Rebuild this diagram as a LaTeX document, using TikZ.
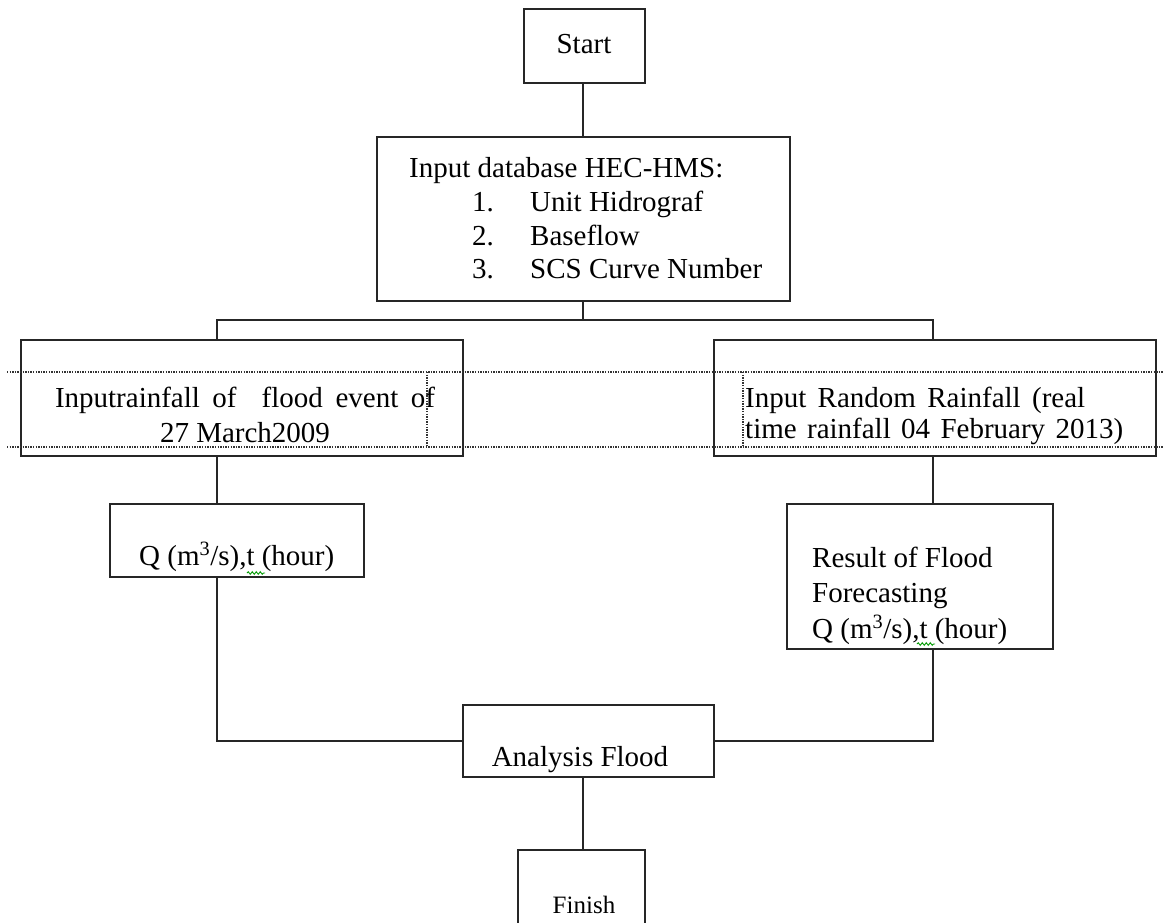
\documentclass[tikz,border=0pt]{standalone}
\usepackage{fontspec}
\setmainfont{Liberation Serif}
\usetikzlibrary{fit,decorations.pathmorphing}
\begin{document}
\begin{tikzpicture}
[x=1pt,y=-1pt,
  boxdecorate/.style={draw=black!85,line width=1.6pt,inner sep=0pt},%
  linkdecorate/.style={draw=black!85,line width=1.6pt},%
  framedecorate/.style={draw=black!80,line width=1.4pt,dash pattern=on 1.4pt off 1.2pt},%
  textdecorate/.style={inner sep=0pt,font=\fontsize{29}{34}\selectfont},%
  smalltext/.style={inner sep=0pt,font=\fontsize{25}{30}\selectfont},%
  spelldecorate/.style={draw=green!60!black,line width=0.9pt,decorate,
    decoration={snake,segment length=4pt,amplitude=1.3pt}}]
\clip (0,0) rectangle (1164,922);
\fill[white] (0,0) rectangle (1164,922);
%% boxes
\foreach \nodename/\xa/\ya/\xb/\yb in {start/524/9/645/83,
  inputdb/377/137/790/301, rainA/21/340/463/456, rainB/714/340/1156/456,
  resA/110/504/364/577, resB/787/504/1053/649, analysis/463/705/714/777,
  finish/518/850/645/940} {
  \node[boxdecorate,fit={(\xa,\ya) (\xb,\yb)}] (\nodename) {};
}
%% texts
\node[textdecorate,anchor=base] (startlbl) at (584,53) {Start};
\node[textdecorate,anchor=base west] (dbtitle) at (409,177) {Input database HEC-HMS:};
\foreach \num/\item/\y in {1/Unit Hidrograf/211, 2/Baseflow/245,
  3/SCS Curve Number/278} {
  \node[textdecorate,anchor=base west] (dbnum\num) at (472,\y) {\num.};
  \node[textdecorate,anchor=base west] (dbitem\num) at (530,\y) {\item};
}
\node[textdecorate,anchor=base] (rainAone) at (245,407)
  {\makebox[380pt][s]{Inputrainfall of\ \ flood event of}};
\node[textdecorate,anchor=base] (rainAtwo) at (245,442) {27 March2009};
\node[textdecorate,anchor=base west] (rainBone) at (745,407)
  {\makebox[340pt][s]{Input Random Rainfall (real}};
\node[textdecorate,anchor=base west] (rainBtwo) at (745,438)
  {\makebox[378pt][s]{time rainfall 04 February 2013)}};
\node[textdecorate,anchor=base west] (resAlbl) at (139,565) {Q (m\textsuperscript{3}/s),t (hour)};
\node[textdecorate,anchor=base west] (resBone) at (812,567) {Result of Flood};
\node[textdecorate,anchor=base west] (resBtwo) at (812,602) {Forecasting};
\node[textdecorate,anchor=base west] (resBthree) at (812,638) {Q (m\textsuperscript{3}/s),t (hour)};
\node[textdecorate,anchor=base] (analysislbl) at (580,766) {Analysis Flood};
\node[smalltext,anchor=base] (finishlbl) at (584,913) {Finish};
%% text frames
\draw[framedecorate] (7,372) -- (1164,372) (7,447) -- (1164,447)
  (427,372) -- (427,447) (743,372) -- (743,447);
\draw[spelldecorate] (247,573) -- (265,573);
\draw[spelldecorate] (917,644) -- (935,644);
%% edges or lines
\coordinate (split) at (583,320);
\coordinate (splitL) at (217,320);
\coordinate (splitR) at (933,320);
\draw[linkdecorate] (split |- start.south) -- (split |- inputdb.north);
\draw[linkdecorate] (split |- inputdb.south) -- (split);
\draw[linkdecorate] (splitL |- rainA.north) -- (splitL) -- (splitR) -- (splitR |- rainB.north);
\draw[linkdecorate] (splitL |- rainA.south) -- (splitL |- resA.north);
\draw[linkdecorate] (splitR |- rainB.south) -- (splitR |- resB.north);
\draw[linkdecorate] (splitL |- resA.south) |- (analysis.west);
\draw[linkdecorate] (splitR |- resB.south) |- (analysis.east);
\draw[linkdecorate] (split |- analysis.south) -- (split |- finish.north);
\end{tikzpicture}
\end{document}
